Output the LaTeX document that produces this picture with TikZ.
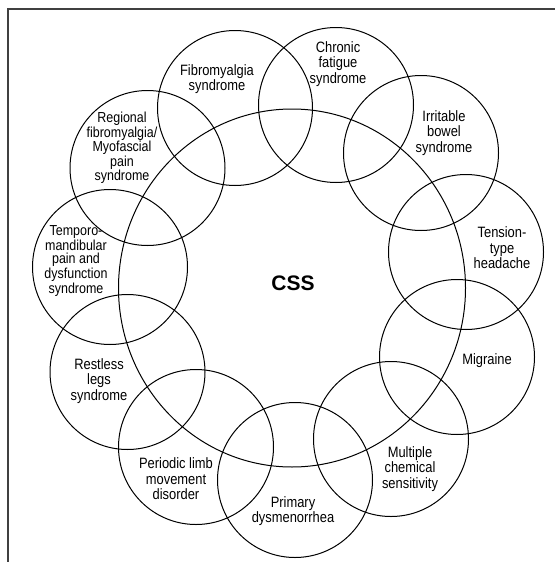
\documentclass[tikz,border=0pt]{standalone}
\usepackage{fontspec}
\setmainfont{Liberation Sans}
\newfontfamily\narrowfont{Liberation Sans}[FakeStretch=0.86]
\usetikzlibrary{shapes.geometric}
\tikzset{
  ring/.style={circle,draw,line width=1pt,inner sep=0pt,minimum size=155pt},
  lbl/.style={align=center,inner sep=0pt,font=\narrowfont\fontsize{15}{15.5}\selectfont},
  lbltight/.style={lbl,font=\narrowfont\fontsize{14.5}{13.5}\selectfont},
}
\begin{document}
\begin{tikzpicture}[x=1pt,y=-1pt]
\useasboundingbox (0,0) rectangle (555,562);
\draw[line width=1.3pt,black!75] (8,562) -- (8,9) -- (555,9);

% central circle
\node[ellipse,draw,line width=1pt,inner sep=0pt,minimum width=347pt,minimum height=358pt] (css) at (292,288) {};
\node[font=\bfseries\fontsize{21}{21}\selectfont] (csslbl) at (293,283) {CSS};

% circles round it
\node[ring] (fibro) at (235,108) {};
\node[ring] (chronic) at (336,105) {};
\node[ring] (ibs) at (421,153) {};
\node[ring] (tension) at (466,252) {};
\node[ring] (migraine) at (457,357) {};
\node[ring] (mcs) at (391,439) {};
\node[ring] (dysmen) at (295,480) {};
\node[ring] (plmd) at (196,447) {};
\node[ring] (rls) at (127.5,372) {};
\node[ring] (tmd) at (110,267) {};
\node[ring] (regional) at (147.5,168) {};

\node[lbl] (fibrolbl) at (217,79) {Fibromyalgia\\syndrome};
\node[lbl] (chroniclbl) at (338,64) {Chronic\\fatigue\\syndrome};
\node[lbl] (ibslbl) at (444,133) {Irritable\\bowel\\syndrome};
\node[lbl] (tensionlbl) at (502,248) {Tension-\\type\\headache};
\node[lbl] (migrainelbl) at (487,361) {Migraine};
\node[lbl] (mcslbl) at (410,469) {Multiple\\chemical\\sensitivity};
\node[lbl] (dysmenlbl) at (293,511) {Primary\\dysmenorrhea};
\node[lbl] (plmdlbl) at (176,479) {Periodic limb\\movement\\disorder};
\node[lbl] (rlslbl) at (99,381) {Restless\\legs\\syndrome};
\node[lbltight] (tmdlbl) at (76,261) {Temporo-\\mandibular\\pain and\\dysfunction\\syndrome};
\node[lbltight] (regionallbl) at (122,148) {Regional\\fibromyalgia/\\Myofascial\\pain\\syndrome};
\end{tikzpicture}
\end{document}
